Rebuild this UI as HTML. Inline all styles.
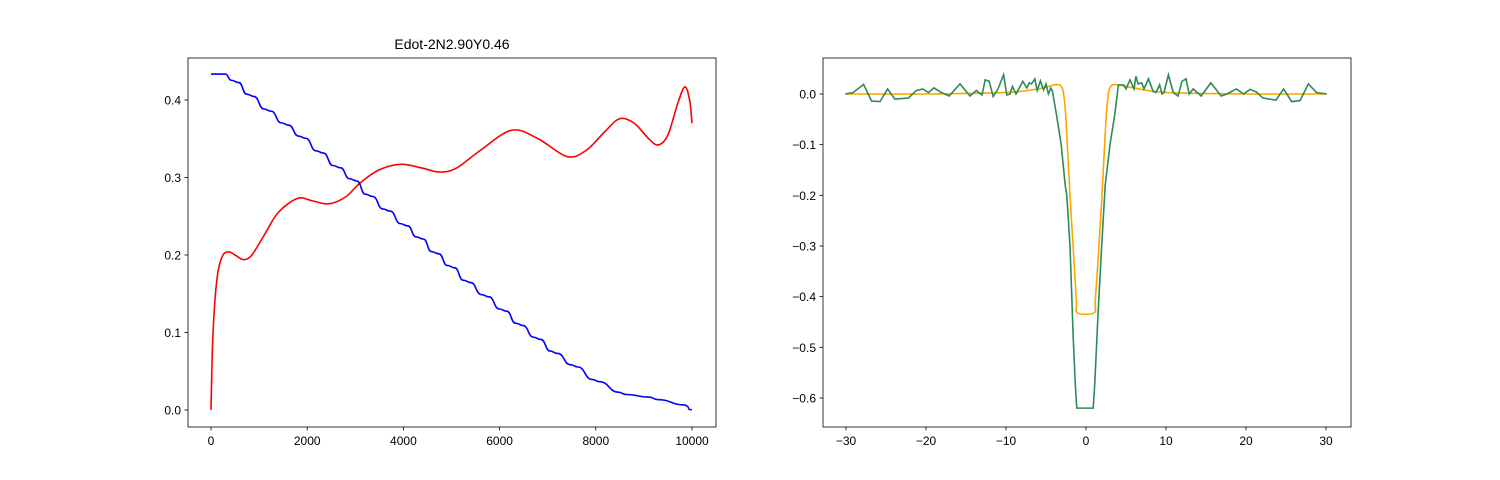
<!DOCTYPE html>
<html><head><meta charset="utf-8"><style>
html,body{margin:0;padding:0;background:#fff;}
svg{display:block;font-family:"Liberation Sans","DejaVu Sans",sans-serif;}
</style></head><body>
<svg id="fig" width="1500" height="480">
<rect width="1500" height="480" fill="#fff"/>
<text x="452" y="49" font-size="14" text-anchor="middle">Edot-2N2.90Y0.46</text>
<g id="left"></g>
<g id="right"></g>
</svg>
<script>
// Left chart data
const leftXTicks=[0,2000,4000,6000,8000,10000];
const leftYTicks=[0.0,0.1,0.2,0.3,0.4];
const redX=[0,30,80,150,250,380,500,680,850,1100,1400,1800,2100,2450,2800,3100,3500,3950,4400,4750,5100,5600,6250,6800,7400,7800,8200,8500,8800,9100,9300,9500,9700,9850,9950,10000];
const redY=[0,0.08,0.14,0.18,0.2,0.204,0.2,0.194,0.2,0.225,0.255,0.273,0.27,0.266,0.275,0.293,0.31,0.317,0.312,0.307,0.312,0.335,0.361,0.35,0.327,0.335,0.36,0.376,0.37,0.35,0.342,0.355,0.395,0.417,0.4,0.37];
const blueX=[0,300,500,820,1175,1540,1895,2260,2615,2955,3285,3650,4015,4340,4660,4990,5320,5700,6070,6410,6780,7130,7550,8000,8550,9200,9850,9900,9950,10000];
const blueY=[0.4335,0.4335,0.424,0.406,0.387,0.369,0.352,0.333,0.314,0.297,0.277,0.258,0.239,0.222,0.203,0.185,0.166,0.1475,0.129,0.1105,0.0925,0.0745,0.057,0.038,0.0215,0.015,0.0065,0.005,0.0005,0.0005];
// Right chart data
const rightXTicks=[-30,-20,-10,0,10,20,30];
const rightYTicks=[0.0,-0.1,-0.2,-0.3,-0.4,-0.5,-0.6];
const orangeX=[-30,-20,-10,-6,-4,-3.3,-3.0,-2.8,-2.5,-2.0,-1.5,-1.2,-1.05,1.0,1.15,1.5,2.0,2.5,2.8,3.0,3.3,4,6,10,20,30];
const orangeY=[0,0,0.003,0.01,0.018,0.018,0.012,0.0,-0.05,-0.2,-0.33,-0.41,-0.432,-0.432,-0.41,-0.33,-0.2,-0.05,0.0,0.012,0.018,0.018,0.012,0.003,0,0];
const greenX=[-30.1,-29.1,-27.8,-26.8,-25.75,-24.8,-23.9,-22.2,-21.25,-20.4,-19.7,-19,-18.1,-17.1,-15.75,-14.5,-13.7,-13,-12.6,-12.1,-11.6,-11,-10.3,-9.9,-9.5,-9.2,-8.75,-7.9,-7.4,-7.1,-6.8,-6.4,-6.1,-5.7,-5.3,-5.0,-4.7,-4.4,-4.2,-3.7,-3.1,-2.6,-2.4,-2.0,-1.6,-1.35,-1.15,0.9,1.1,1.55,1.96,2.4,3.0,3.6,4.05,4.7,5.0,5.5,6.0,6.25,6.5,6.96,7.25,7.8,8.4,8.75,9.2,9.5,9.75,10.3,10.9,11.5,12,12.5,12.9,13.4,14.4,15.6,16.9,17.6,18.8,19.7,20.5,21.3,22.1,23.75,24.7,25.7,26.75,27.8,28.8,30.1];
const greenY=[0,0.003,0.019,-0.014,-0.015,0.01,-0.01,-0.008,0.0065,0.01,0.003,0.012,0.003,-0.004,0.02,-0.004,0.007,-0.002,0.028,0.025,-0.005,0.01,0.038,-0.002,0,0.015,0,0.025,0.012,0.022,0.02,0.03,0.007,0.026,0.008,0.02,0,0.012,0.006,-0.04,-0.1,-0.18,-0.2,-0.3,-0.48,-0.57,-0.62,-0.62,-0.57,-0.42,-0.3,-0.18,-0.1,-0.04,0.018,0.018,0.01,0.028,0.01,0.035,0.02,0.022,0.01,0.03,0.005,0.003,0.018,0,0.003,0.038,0.003,-0.004,0.025,0.03,0,0.01,-0.004,0.022,-0.004,0,0.01,0,0.009,0.004,-0.008,-0.012,0.01,-0.015,-0.013,0.02,0.003,0];

const NS='http://www.w3.org/2000/svg';
function mk(parent,tag,attrs){const e=document.createElementNS(NS,tag);for(const k in attrs)e.setAttribute(k,attrs[k]);parent.appendChild(e);return e;}
function smoothPath(pts){
  let d='M'+pts[0][0].toFixed(2)+','+pts[0][1].toFixed(2);
  for(let i=0;i<pts.length-1;i++){
    const p0=pts[Math.max(i-1,0)],p1=pts[i],p2=pts[i+1],p3=pts[Math.min(i+2,pts.length-1)];
    const c1x=p1[0]+(p2[0]-p0[0])/6,c1y=p1[1]+(p2[1]-p0[1])/6;
    const c2x=p2[0]-(p3[0]-p1[0])/6,c2y=p2[1]-(p3[1]-p1[1])/6;
    d+=' C'+c1x.toFixed(2)+','+c1y.toFixed(2)+' '+c2x.toFixed(2)+','+c2y.toFixed(2)+' '+p2[0].toFixed(2)+','+p2[1].toFixed(2);
  }
  return d;
}
function axes(g,box,xs,ys,xt,yt,fmtX,fmtY,prefix){
  mk(g,'rect',{x:box.l,y:box.t,width:box.r-box.l,height:box.b-box.t,fill:'none',stroke:'#000','stroke-width':0.8});
  xt.forEach(v=>{const x=xs(v);
    const t=mk(g,'line',{x1:x,y1:box.b,x2:x,y2:box.b+3.5,stroke:'#000','stroke-width':0.8});
    
    
    const s=mk(g,'text',{x:x,y:box.b+18,'font-size':12,'text-anchor':'middle'});s.textContent=fmtX(v);
    
    
  });
  yt.forEach(v=>{const y=ys(v);
    const t=mk(g,'line',{x1:box.l-3.5,y1:y,x2:box.l,y2:y,stroke:'#000','stroke-width':0.8});
    
    
    const s=mk(g,'text',{x:box.l-7,y:y+4.5,'font-size':12,'text-anchor':'end'});s.textContent=fmtY(v);
    
    
  });
}
// Left
const L=document.getElementById('left');
const lbox={l:188,r:716,t:58,b:427};
const lx=v=>211+v*(692-211)/10000;
const ly=v=>410-v*(410-100)/0.4;
axes(L,lbox,lx,ly,leftXTicks,leftYTicks,v=>String(v),v=>v.toFixed(1),'left');
const rp=mk(L,'path',{d:smoothPath(redX.map((x,i)=>[lx(x),ly(redY[i])])),fill:'none',stroke:'#ff0000','stroke-width':1.6});


const bpts=[];
blueX.forEach((x,i)=>{
  if(i>1&&i<blueX.length-4){bpts.push([lx(x-80),ly(blueY[i]+0.0015)]);bpts.push([lx(x+80),ly(blueY[i]-0.0015)]);}
  else bpts.push([lx(x),ly(blueY[i])]);
});
let bd='M'+bpts[0][0]+','+bpts[0][1];
for(let i=1;i<bpts.length;i++){
  const a=bpts[i-1],b=bpts[i];
  const mx=(a[0]+b[0])/2;
  bd+=' C'+mx+','+a[1]+' '+mx+','+b[1]+' '+b[0]+','+b[1];
}
const bp=mk(L,'path',{d:bd,fill:'none',stroke:'#0000ff','stroke-width':1.6});


// Right
const R=document.getElementById('right');
const rbox={l:823,r:1351,t:58,b:427};
const rx=v=>846+(v+30)*(1326-846)/60;
const ry=v=>94-v*(398-94)/0.6;
axes(R,rbox,rx,ry,rightXTicks,rightYTicks,v=>v<0?'\u2212'+Math.abs(v):String(v),v=>v<0?'\u2212'+Math.abs(v).toFixed(1):v.toFixed(1),'right');
const op=mk(R,'path',{d:smoothPath(orangeX.map((x,i)=>[rx(x),ry(orangeY[i])])),fill:'none',stroke:'#ffa500','stroke-width':1.6});


const gp=mk(R,'polyline',{points:greenX.map((x,i)=>rx(x).toFixed(2)+','+ry(greenY[i]).toFixed(2)).join(' '),fill:'none',stroke:'#2e8b57','stroke-width':1.6});


</script>
</body></html>
